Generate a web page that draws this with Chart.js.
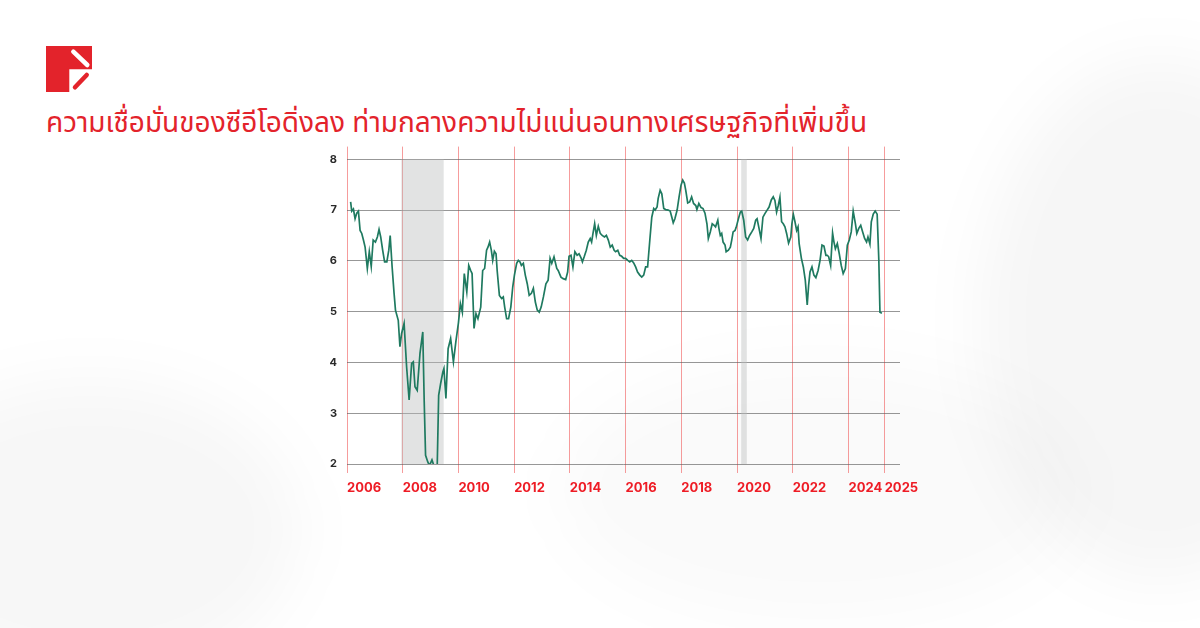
<!DOCTYPE html>
<html>
<head>
<meta charset="utf-8">
<script src="https://cdn.jsdelivr.net/npm/chart.js@4.4.1/dist/chart.umd.min.js"></script>
<style>
  html, body { margin: 0; padding: 0; }
  body {
    width: 1200px; height: 628px; overflow: hidden; position: relative;
    background: #ffffff;
    font-family: "Noto Sans Thai", "Noto Sans", "DejaVu Sans", sans-serif;
  }
  .blob { position: absolute; border-radius: 50%; filter: blur(30px); }
  #logo { position: absolute; left: 46px; top: 46px; }
  #title {
    position: absolute; left: 46px; top: 102px; margin: 0;
    font-size: 28px; font-weight: 400; color: #e3232b; white-space: nowrap;
  }
  #wrap { position: absolute; left: 300px; top: 130px; width: 640px; height: 380px; }
</style>
</head>
<body>
<div class="blob" style="left:980px;top:60px;width:360px;height:520px;background:rgba(0,0,0,0.035);"></div>
<div class="blob" style="left:-120px;top:380px;width:420px;height:300px;background:rgba(0,0,0,0.03);"></div>
<div class="blob" style="left:560px;top:360px;width:520px;height:260px;background:rgba(0,0,0,0.02);"></div>

<svg id="logo" width="46" height="46" viewBox="0 0 46 46">
  <path d="M0 0 H46 V23.3 H23.3 V46 H0 Z" fill="#e3232b"/>
  <line x1="27.3" y1="5.7" x2="41.3" y2="19" stroke="#ffffff" stroke-width="4.5" stroke-linecap="round"/>
  <line x1="29" y1="41.3" x2="40.7" y2="29" stroke="#e3232b" stroke-width="4.5" stroke-linecap="round"/>
</svg>

<h1 id="title">ความเชื่อมั่นของซีอีโอดิ่งลง ท่ามกลางความไม่แน่นอนทางเศรษฐกิจที่เพิ่มขึ้น</h1>

<div id="wrap"><canvas id="ceoChart"></canvas></div>

<script>
// CEO confidence (decimal year, index value)
const years = [
  2006.13, 2006.17, 2006.23, 2006.29, 2006.35, 2006.41, 2006.47, 2006.53, 2006.59, 2006.65,
  2006.73, 2006.80, 2006.87, 2006.94, 2007.02, 2007.09, 2007.15, 2007.21, 2007.28, 2007.35,
  2007.43, 2007.50, 2007.55, 2007.62, 2007.69, 2007.74, 2007.84, 2007.90, 2007.96, 2008.05,
  2008.14, 2008.23, 2008.32, 2008.38, 2008.44, 2008.52, 2008.62, 2008.72, 2008.77, 2008.82,
  2008.90, 2008.96, 2009.05, 2009.16, 2009.24, 2009.29, 2009.36, 2009.44, 2009.48, 2009.55,
  2009.63, 2009.72, 2009.82, 2009.91, 2010.00, 2010.07, 2010.14, 2010.21, 2010.30, 2010.37,
  2010.44, 2010.49, 2010.56, 2010.63, 2010.70, 2010.80, 2010.87, 2010.94, 2011.01, 2011.06,
  2011.12, 2011.18, 2011.23, 2011.29, 2011.35, 2011.39, 2011.47, 2011.55, 2011.61, 2011.66,
  2011.73, 2011.80, 2011.88, 2011.95, 2012.01, 2012.09, 2012.15, 2012.21, 2012.26, 2012.33,
  2012.40, 2012.47, 2012.54, 2012.62, 2012.69, 2012.76, 2012.83, 2012.90, 2012.97, 2013.05,
  2013.14, 2013.22, 2013.29, 2013.35, 2013.43, 2013.53, 2013.58, 2013.68, 2013.76, 2013.85,
  2013.92, 2013.97, 2014.04, 2014.11, 2014.18, 2014.26, 2014.33, 2014.40, 2014.45, 2014.52,
  2014.59, 2014.66, 2014.73, 2014.78, 2014.83, 2014.89, 2014.95, 2015.02, 2015.09, 2015.16,
  2015.24, 2015.31, 2015.38, 2015.45, 2015.52, 2015.59, 2015.64, 2015.72, 2015.79, 2015.86,
  2015.93, 2016.00, 2016.08, 2016.15, 2016.22, 2016.29, 2016.36, 2016.43, 2016.51, 2016.58,
  2016.65, 2016.72, 2016.79, 2016.87, 2016.94, 2017.01, 2017.06, 2017.13, 2017.17, 2017.24,
  2017.30, 2017.37, 2017.44, 2017.53, 2017.60, 2017.66, 2017.71, 2017.77, 2017.85, 2017.92,
  2017.99, 2018.05, 2018.11, 2018.16, 2018.23, 2018.30, 2018.37, 2018.44, 2018.52, 2018.56,
  2018.63, 2018.71, 2018.78, 2018.85, 2018.92, 2018.97, 2019.04, 2019.11, 2019.18, 2019.23,
  2019.31, 2019.35, 2019.40, 2019.45, 2019.50, 2019.57, 2019.61, 2019.69, 2019.76, 2019.81,
  2019.86, 2019.93, 2019.97, 2020.05, 2020.12, 2020.17, 2020.24, 2020.31, 2020.38, 2020.45,
  2020.53, 2020.60, 2020.67, 2020.72, 2020.79, 2020.86, 2020.93, 2021.00, 2021.08, 2021.15,
  2021.23, 2021.30, 2021.36, 2021.42, 2021.48, 2021.54, 2021.60, 2021.66, 2021.72, 2021.78,
  2021.85, 2021.93, 2021.97, 2022.02, 2022.08, 2022.14, 2022.19, 2022.23, 2022.31, 2022.38,
  2022.45, 2022.52, 2022.57, 2022.62, 2022.69, 2022.76, 2022.83, 2022.91, 2022.98, 2023.05,
  2023.12, 2023.19, 2023.24, 2023.29, 2023.36, 2023.43, 2023.48, 2023.53, 2023.60, 2023.67,
  2023.74, 2023.81, 2023.89, 2023.96, 2024.03, 2024.10, 2024.17, 2024.25, 2024.30, 2024.37,
  2024.44, 2024.51, 2024.58, 2024.65, 2024.70, 2024.77, 2024.82, 2024.89, 2024.96, 2025.03,
  2025.09, 2025.13, 2025.20
];
const confidence = [
  7.16, 6.98, 7.02, 6.83, 6.94, 6.98, 6.60, 6.54, 6.41, 6.27,
  5.85, 6.18, 5.89, 6.41, 6.37, 6.47, 6.62, 6.47, 6.21, 5.98,
  5.98, 6.21, 6.50, 5.88, 5.36, 5.03, 4.83, 4.31, 4.57, 4.77,
  3.91, 3.26, 3.98, 4.01, 3.52, 3.45, 4.18, 4.60, 3.26, 2.17,
  2.04, 1.97, 2.08, 1.90, 2.00, 3.35, 3.58, 3.81, 3.88, 3.29,
  4.27, 4.47, 4.01, 4.42, 4.78, 5.16, 4.99, 5.75, 5.39, 5.91,
  5.81, 5.75, 4.67, 4.96, 4.86, 5.09, 5.81, 5.85, 6.21, 6.27,
  6.37, 6.21, 6.01, 6.19, 6.14, 5.81, 5.32, 5.26, 5.29, 5.09,
  4.86, 4.86, 5.09, 5.49, 5.72, 5.95, 6.01, 5.98, 5.91, 5.95,
  5.72, 5.55, 5.32, 5.36, 5.46, 5.19, 5.03, 4.99, 5.09, 5.29,
  5.55, 5.62, 6.05, 5.95, 6.08, 5.85, 5.81, 5.68, 5.65, 5.63,
  5.78, 6.09, 6.11, 5.88, 6.18, 6.11, 6.14, 6.06, 5.98, 6.09,
  6.21, 6.37, 6.44, 6.37, 6.54, 6.73, 6.50, 6.68, 6.54, 6.50,
  6.47, 6.50, 6.41, 6.27, 6.31, 6.21, 6.18, 6.21, 6.11, 6.09,
  6.05, 6.05, 6.01, 5.98, 6.01, 5.96, 5.88, 5.78, 5.72, 5.68,
  5.72, 5.88, 5.88, 6.41, 6.86, 7.03, 7.00, 7.06, 7.23, 7.39,
  7.32, 7.03, 7.01, 7.00, 6.98, 6.86, 6.75, 6.83, 7.00, 7.26,
  7.49, 7.59, 7.53, 7.39, 7.14, 7.16, 7.26, 7.13, 7.09, 7.01,
  7.13, 7.05, 7.03, 6.94, 6.73, 6.44, 6.57, 6.73, 6.70, 6.67,
  6.80, 6.64, 6.50, 6.54, 6.37, 6.31, 6.18, 6.21, 6.27, 6.41,
  6.57, 6.60, 6.66, 6.83, 6.96, 6.98, 6.80, 6.47, 6.41, 6.50,
  6.57, 6.64, 6.80, 6.83, 6.64, 6.44, 6.86, 6.93, 7.00, 7.06,
  7.20, 7.26, 7.19, 6.96, 7.09, 7.25, 6.77, 6.73, 6.67, 6.54,
  6.35, 6.47, 6.73, 6.92, 6.77, 6.60, 6.67, 6.34, 6.05, 5.88,
  5.62, 5.13, 5.52, 5.78, 5.88, 5.72, 5.67, 5.81, 6.01, 6.31,
  6.29, 6.11, 6.11, 6.08, 5.91, 6.55, 6.37, 6.24, 6.34, 6.14,
  5.91, 5.75, 5.85, 6.31, 6.41, 6.57, 6.98, 6.73, 6.54, 6.64,
  6.70, 6.57, 6.44, 6.37, 6.47, 6.33, 6.77, 6.92, 6.98, 6.92,
  6.01, 4.99, 4.97
];

const xTickValues = [2006, 2008, 2010, 2012, 2014, 2016, 2018, 2020, 2022, 2024, 2025.3];
const xTickLabels = ['2006', '2008', '2010', '2012', '2014', '2016', '2018', '2020', '2022', '2024', '2025'];
const yTickValues = [2, 3, 4, 5, 6, 7, 8];

// recession bands
const recessionStart = [2007.95, 2020.15];
const recessionEnd = [2009.47, 2020.35];

const shadePlugin = {
    id: 'shade',
    beforeDatasetsDraw(chart) {
        const {ctx, scales: {x, y}} = chart;
        ctx.save();
        ctx.fillStyle = 'rgba(185, 188, 188, 0.42)';
        const top = y.getPixelForValue(8);
        const bottom = y.getPixelForValue(2);
        recessionStart.forEach((s, i) => {
            const left = x.getPixelForValue(s);
            const right = x.getPixelForValue(recessionEnd[i]);
            ctx.fillRect(left, top, right - left, bottom - top);
        });
        ctx.restore();
    }
};

const ctx = document.getElementById('ceoChart');

new Chart(ctx, {
    type: 'line',
    data: {
        datasets: [{
            data: years.map((yr, i) => ({x: yr, y: confidence[i]})),
            borderColor: '#1f7a60',
            borderWidth: 1.7,
            pointRadius: 0,
            tension: 0
        }]
    },
    options: {
        responsive: true,
        maintainAspectRatio: false,
        animation: false,
        layout: {padding: {top: 16, right: 40, bottom: 6, left: 0}},
        plugins: {
            legend: {display: false},
            tooltip: {enabled: false}
        },
        scales: {
            x: {
                type: 'linear',
                min: 2006,
                max: 2025.85,
                afterBuildTicks: (scale) => {
                    scale.ticks = xTickValues.map(v => ({value: v}));
                },
                afterFit: (scale) => { scale.height = 40; },
                grid: {
                    color: 'rgba(240, 90, 90, 0.6)',
                    lineWidth: 1,
                    tickLength: 9,
                    drawTicks: true
                },
                border: {display: false},
                ticks: {
                    align: 'start',
                    padding: 7,
                    maxRotation: 0,
                    autoSkip: false,
                    color: '#ee1c25',
                    font: {family: 'Inter', size: 13, weight: '700'},
                    callback: (val, idx) => xTickLabels[idx]
                }
            },
            y: {
                min: 2,
                max: 8.25,
                afterBuildTicks: (scale) => {
                    scale.ticks = yTickValues.map(v => ({value: v}));
                },
                afterFit: (scale) => { scale.width = 47; },
                grid: {
                    color: 'rgba(95, 95, 95, 0.65)',
                    lineWidth: 1,
                    drawTicks: false
                },
                border: {display: false},
                ticks: {
                    padding: 10,
                    color: '#2a2a2a',
                    font: {family: 'Inter', size: 11, weight: '700'}
                }
            }
        }
    },
    plugins: [shadePlugin]
});
</script>
</body>
</html>
